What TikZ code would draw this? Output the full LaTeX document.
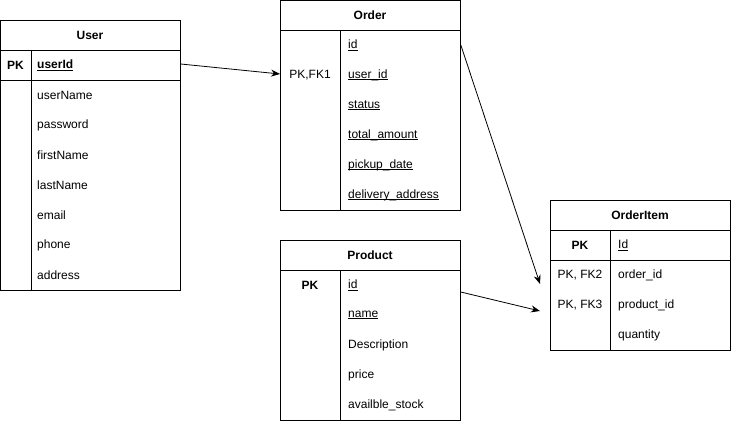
\documentclass[tikz,border=0pt]{standalone}
\usepackage{fontspec}
\setmainfont{Liberation Sans}
\usetikzlibrary{arrows.meta}

\newcommand\keyline[1]{\setbox0\hbox{#1}\rlap{\rule[-1.6pt]{\wd0}{0.6pt}}\box0}

\tikzset{
  tbl/.style={draw, line width=0.8pt, inner sep=0pt, anchor=north west},
  ttl/.style={font=\fontsize{12}{14}\selectfont\bfseries},
  fld/.style={anchor=west, inner sep=0pt, font=\fontsize{12}{14}\selectfont},
  keyf/.style={inner sep=0pt, font=\fontsize{12}{14}\selectfont},
  sep/.style={line width=0.8pt},
  rel/.style={-{Stealth[length=9pt,width=7pt]}, line width=0.8pt}
}

\begin{document}
\begin{tikzpicture}[x=1pt,y=-1pt]
  \useasboundingbox (0,0) rectangle (731,421);

  % User
  \node[tbl, minimum width=180pt, minimum height=270pt] (user) at (0,20) {};
  \draw[sep] (0,50) -- (180,50);
  \draw[sep] (0,80) -- (180,80);
  \draw[sep] (31,50) -- (31,290);
  \node[ttl] (usertitle) at (90,35) {User};
  \node[keyf, font=\fontsize{12}{14}\selectfont\bfseries] (userpk) at (15.5,65) {PK};
  \node[fld, font=\fontsize{12}{14}\selectfont\bfseries] (userid) at (37,65) {\keyline{userId}};
  \node[fld] (username) at (37,95) {userName};
  \node[fld] (password) at (37,125) {password};
  \node[fld] (firstname) at (37,155) {firstName};
  \node[fld] (lastname) at (37,185) {lastName};
  \node[fld] (email) at (37,215) {email};
  \node[fld] (phone) at (37,245) {phone};
  \node[fld] (address) at (37,275) {address};

  % Order
  \node[tbl, minimum width=180pt, minimum height=210pt] (order) at (280,0) {};
  \draw[sep] (280,30) -- (460,30);
  \draw[sep] (340,30) -- (340,210);
  \node[ttl] (ordertitle) at (370,15) {Order};
  \node[keyf] (orderkey) at (310,75) {PK,FK1};
  \node[fld] (oid) at (348,45) {\keyline{id}};
  \node[fld] (ouser) at (348,75) {\keyline{user\_id}};
  \node[fld] (ostatus) at (348,105) {\keyline{status}};
  \node[fld] (oamount) at (348,135) {\keyline{total\_amount}};
  \node[fld] (opickup) at (348,165) {\keyline{pickup\_date}};
  \node[fld] (oaddress) at (348,195) {\keyline{delivery\_address}};

  % Product
  \node[tbl, minimum width=180pt, minimum height=180pt] (product) at (280,240) {};
  \draw[sep] (280,270) -- (460,270);
  \draw[sep] (340,270) -- (340,420);
  \node[ttl] (producttitle) at (370,255) {Product};
  \node[keyf, font=\fontsize{12}{14}\selectfont\bfseries] (productpk) at (310,285) {PK};
  \node[fld] (pid) at (348,285) {\keyline{id}};
  \node[fld] (pname) at (348,315) {\keyline{name}};
  \node[fld] (pdesc) at (348,345) {Description};
  \node[fld] (pprice) at (348,375) {price};
  \node[fld] (pstock) at (348,405) {availble\_stock};

  % OrderItem
  \node[tbl, minimum width=180pt, minimum height=150pt] (item) at (550,200) {};
  \draw[sep] (550,230) -- (730,230);
  \draw[sep] (550,260) -- (730,260);
  \draw[sep] (610,230) -- (610,350);
  \node[ttl] (itemtitle) at (640,215) {OrderItem};
  \node[keyf, font=\fontsize{12}{14}\selectfont\bfseries] (itempk) at (580,245) {PK};
  \node[fld] (iid) at (618,245) {\keyline{Id}};
  \node[keyf] (ifk2) at (580,275) {PK, FK2};
  \node[keyf] (ifk3) at (580,305) {PK, FK3};
  \node[fld] (iorder) at (618,275) {order\_id};
  \node[fld] (iproduct) at (618,305) {product\_id};
  \node[fld] (iqty) at (618,335) {quantity};

  % relations
  \coordinate (toorder) at ([yshift=1pt]order.west |- orderkey);
  \coordinate (toitemA) at ([xshift=-10pt,yshift=-9pt]item.west |- ifk2);
  \coordinate (toitemB) at ([xshift=-10pt,yshift=-6pt]item.west |- ifk3);
  \draw[rel] ([yshift=1pt]user.east |- userid) -- (toorder);
  \draw[rel] (order.east |- oid) -- (toitemA);
  \draw[rel] ([yshift=-7pt]product.east |- pid) -- (toitemB);
\end{tikzpicture}
\end{document}
